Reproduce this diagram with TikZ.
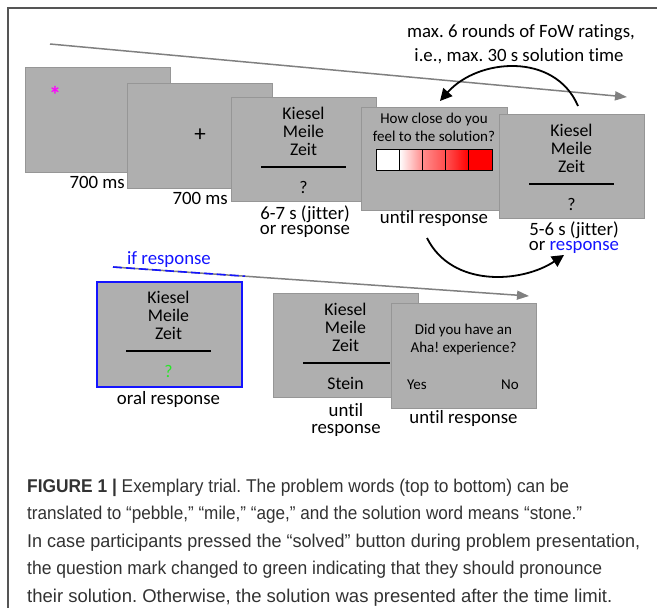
\documentclass[tikz,border=0pt]{standalone}
\usepackage{graphicx}
\usepackage{fontspec}
\setmainfont{Carlito}[Ligatures=NoCommon]
\newfontfamily\capfont[FakeStretch=0.957]{Liberation Sans}
\usetikzlibrary{arrows.meta}
\definecolor{boxgray}{RGB}{175,175,175}
\definecolor{boxedge}{RGB}{150,150,150}
\definecolor{tlgray}{RGB}{128,128,128}
\definecolor{framegray}{RGB}{85,85,85}
\definecolor{myblue}{RGB}{20,20,255}
\definecolor{mygreen}{RGB}{40,230,40}
\definecolor{mymag}{RGB}{255,0,255}
\definecolor{capgray}{RGB}{50,50,50}
\newcommand\capline[2]{\resizebox{#1pt}{\height}{#2}}
\begin{document}
\frenchspacing
\begin{tikzpicture}[x=1pt,y=-1pt,
  screen/.style={draw=boxedge, fill=boxgray, line width=0.9pt, anchor=north west, inner sep=0pt},
  txt/.style={font=\fontsize{17.8}{18.3}\selectfont, inner sep=0pt, anchor=base},
  small/.style={font=\fontsize{15}{18}\selectfont, inner sep=0pt, anchor=base},
  lbl/.style={font=\fontsize{18.8}{18}\selectfont, inner sep=0pt, anchor=base},
  captxt/.style={font=\capfont\fontsize{18.5}{20}\selectfont, text=capgray, inner sep=0pt, anchor=base west},
  rulebar/.style={line width=1.6pt},
  tl/.style={draw=tlgray, line width=1.5pt, -{Triangle[length=12pt,width=9pt]}},
  curvarrow/.style={draw=black, line width=1.8pt, -{Triangle[length=12pt,width=12pt]}},
  cell/.style={draw=black, line width=0.8pt}
]
\useasboundingbox (0,0) rectangle (657,608);
% frame
\draw[framegray, line width=1.2pt] (8,610) -- (8,8) -- (660,8);

% top timeline
\coordinate (tlAs) at (50,44);
\coordinate (tlAe) at (627,97);
\draw[tl] (tlAs) -- (tlAe);

% screen 1
\node[screen, minimum width=145pt, minimum height=105pt] (s1) at (25,67) {};
\node[inner sep=0pt, anchor=base, text=mymag, font=\fontsize{24}{24}\selectfont\bfseries] (star) at (55,103) {*};
\node[lbl, anchor=base east] (l1) at (125,188) {700 ms};

% screen 2
\node[screen, minimum width=145pt, minimum height=105pt] (s2) at (127,83) {};
\node[inner sep=0pt, font=\fontsize{23}{23}\selectfont] (plus) at (200,135) {+};
\node[lbl, anchor=base east] (l2) at (228,204) {700 ms};

% screen 3
\node[screen, minimum width=145pt, minimum height=104pt] (s3) at (231,97) {};
\node[txt] (s3a) at (303.5,119) {Kiesel};
\node[txt] (s3b) at (303.5,137.5) {Meile};
\node[txt] (s3c) at (303.5,155.7) {Zeit};
\draw[rulebar] (261,166.7) -- (346,166.7);
\node[txt] (s3q) at (303.5,193) {?};
\node[lbl] (l3a) at (305,219) {6-7 s (jitter)};
\node[lbl] (l3b) at (305,234.3) {or response};

% screen 4
\node[screen, minimum width=146pt, minimum height=103pt] (s4) at (361,107) {};
\node[small] (s4a) at (434,123) {How close do you};
\node[small] (s4b) at (434,141.5) {feel to the solution?};
\fill[white] (376,149) rectangle (399.2,170);
\shade[left color=white, right color=red!45] (399.2,149) rectangle (422.4,170);
\shade[left color=red!45, right color=red!70] (422.4,149) rectangle (445.6,170);
\shade[left color=red!68, right color=red!100] (445.6,149) rectangle (468.8,170);
\fill[red] (468.8,149) rectangle (492,170);
\foreach \xx in {376,399.2,422.4,445.6,468.8}{
  \draw[cell] (\xx,149) rectangle ++(23.2,21);
}
\node[lbl] (l4) at (434,223) {until response};

% screen 5
\node[screen, minimum width=145pt, minimum height=104pt] (s5) at (499,114) {};
\node[txt] (s5a) at (571.5,136) {Kiesel};
\node[txt] (s5b) at (571.5,154.5) {Meile};
\node[txt] (s5c) at (571.5,172.7) {Zeit};
\draw[rulebar] (529,183.7) -- (614,183.7);
\node[txt] (s5q) at (571.5,210) {?};
\node[lbl] (l5a) at (574,235) {5-6 s (jitter)};
\node[lbl] (l5b) at (574,250.3) {or \textcolor{myblue}{response}};

% annotation
\node[lbl] (ann1) at (521,37) {max. 6 rounds of FoW ratings,};
\node[lbl] (ann2) at (519,61) {i.e., max. 30 s solution time};

% curved arrows
\coordinate (cA1) at (578,106);
\coordinate (cA2) at (440,101);
\draw[curvarrow] (cA1) .. controls (555,52) and (478,58) .. (cA2);
\coordinate (cB1) at (427,238);
\coordinate (cB2) at (564,255);
\draw[curvarrow] (cB1) .. controls (452,288) and (522,283) .. (cB2);

% lower timeline
\coordinate (tlBs) at (113,267);
\coordinate (tlBm) at (245,276.2);
\coordinate (tlBe) at (529,296);
\draw[tl] (tlBs) -- (tlBe);
\draw[myblue, line width=1.6pt, dash pattern=on 9pt off 4pt] (tlBs) -- (tlBm);
\node[lbl, text=myblue] (ifr) at (169,264) {if response};

% screen 6
\node[screen, draw=myblue, line width=1.8pt, minimum width=145pt, minimum height=105pt] (s6) at (96,281) {};
\node[txt] (s6a) at (168.5,303) {Kiesel};
\node[txt] (s6b) at (168.5,321.5) {Meile};
\node[txt] (s6c) at (168.5,339.7) {Zeit};
\draw[rulebar] (126,350.7) -- (211,350.7);
\node[txt, text=mygreen] (s6q) at (168.5,377) {?};
\node[lbl] (l6) at (168.5,404) {oral response};

% screen 7
\node[screen, minimum width=145pt, minimum height=104pt] (s7) at (273,293) {};
\node[txt] (s7a) at (345.5,315) {Kiesel};
\node[txt] (s7b) at (345.5,333.5) {Meile};
\node[txt] (s7c) at (345.5,351.7) {Zeit};
\draw[rulebar] (303,362.7) -- (390,362.7);
\node[txt] (s7s) at (345.5,389) {Stein};
\node[lbl] (l7a) at (346,416) {until};
\node[lbl] (l7b) at (346,433) {response};

% screen 8
\node[screen, minimum width=145pt, minimum height=105pt] (s8) at (391,303) {};
\node[small] (s8a) at (463.5,334) {Did you have an};
\node[small] (s8b) at (463.5,352) {Aha! experience?};
\node[small, anchor=base west] (s8y) at (407,389) {Yes};
\node[small, anchor=base east] (s8n) at (519,389) {No};
\node[lbl] (l8) at (463.5,423) {until response};

% caption
\node[captxt] (c1) at (27,492) {\capline{542}{{\bfseries FIGURE 1 |} Exemplary trial. The problem words (top to bottom) can be}};
\node[captxt] (c2) at (27,519.5) {\capline{555}{translated to “pebble,” “mile,” “age,” and the solution word means “stone.”}};
\node[captxt] (c3) at (27,547) {\capline{613}{In case participants pressed the “solved” button during problem presentation,}};
\node[captxt] (c4) at (27,574.5) {\capline{575}{the question mark changed to green indicating that they should pronounce}};
\node[captxt] (c5) at (27,602) {\capline{585}{their solution. Otherwise, the solution was presented after the time limit.}};
\end{tikzpicture}
\end{document}
